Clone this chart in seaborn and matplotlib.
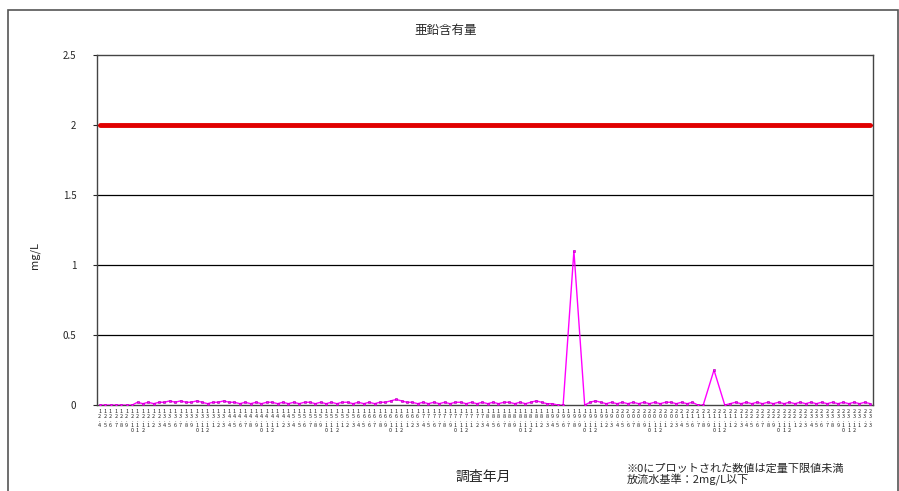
import numpy as np
import pandas as pd

import seaborn as sns
import matplotlib.pyplot as plt

import warnings
warnings.filterwarnings('ignore')

# survey months (Heisei year, month) -- one sample per month
years = [12, 13, 14, 15, 16, 17, 18, 19, 20, 21, 22, 23]
months = [4, 5, 6, 7, 8, 9, 10, 11, 12, 1, 2, 3]

zinc = [
    0, 0, 0, 0, 0, 0, 0, 0.02, 0.01, 0.02, 0.01, 0.02,
    0.02, 0.03, 0.02, 0.03, 0.02, 0.02, 0.03, 0.02, 0.01, 0.02, 0.02, 0.03,
    0.02, 0.02, 0.01, 0.02, 0.01, 0.02, 0.01, 0.02, 0.02, 0.01, 0.02, 0.01,
    0.02, 0.01, 0.02, 0.02, 0.01, 0.02, 0.01, 0.02, 0.01, 0.02, 0.02, 0.01,
    0.02, 0.01, 0.02, 0.01, 0.02, 0.02, 0.03, 0.04, 0.03, 0.02, 0.02, 0.01,
    0.02, 0.01, 0.02, 0.01, 0.02, 0.01, 0.02, 0.02, 0.01, 0.02, 0.01, 0.02,
    0.01, 0.02, 0.01, 0.02, 0.02, 0.01, 0.02, 0.01, 0.02, 0.03, 0.02, 0.01,
    0.01, 0, 0, None, 1.1, None, 0, 0.02, 0.03, 0.02, 0.01, 0.02,
    0.01, 0.02, 0.01, 0.02, 0.01, 0.02, 0.01, 0.02, 0.01, 0.02, 0.02, 0.01,
    0.02, 0.01, 0.02, 0, 0, None, 0.25, None, 0, 0.01, 0.02, 0.01,
    0.02, 0.01, 0.02, 0.01, 0.02, 0.01, 0.02, 0.01, 0.02, 0.01, 0.02, 0.01,
    0.02, 0.01, 0.02, 0.01, 0.02, 0.01, 0.02, 0.01, 0.02, 0.01, 0.02, 0.01,
]
standard = 2  # discharge standard, mg/L

labels = []
for y in years:
    for m in months:
        labels.append("\n".join(f"{y}.{m}"))

df = pd.DataFrame({"idx": range(len(zinc)), "zinc": zinc, "std": standard})
df["zinc"] = pd.to_numeric(df["zinc"])

sns.set_style("white")
plt.rcParams['font.family'] = ['Noto Sans CJK JP', 'DejaVu Sans']

fig = plt.figure(figsize=(8.99, 4.91), dpi=100)
ax = fig.add_axes([0.108, 0.175, 0.863, 0.713])

for v in [0.5, 1, 1.5, 2]:
    ax.axhline(v, color='black', lw=0.9, zorder=1)

sns.lineplot(data=df, x="idx", y="std", color='#e00000', lw=3.5, ax=ax, zorder=3)
sns.lineplot(data=df.dropna(), x="idx", y="zinc", color='#ff00ff', lw=1, marker='s',
             markersize=2, markeredgewidth=0.4, markeredgecolor='#b000b0', ax=ax, zorder=4)

ax.set_xlim(-0.5, len(zinc) - 0.5)
ax.set_ylim(0, 2.5)
ax.set_yticks([0, 0.5, 1, 1.5, 2, 2.5])
ax.set_yticklabels(['0', '0.5', '1', '1.5', '2', '2.5'], fontsize=7)
ax.set_xticks(range(len(zinc)))
ax.set_xticklabels(labels, fontsize=4, linespacing=0.9, va='top', color='#222222')
ax.tick_params(axis='x', length=2, pad=1, color='#555555')
ax.tick_params(axis='y', length=3, pad=12, left=True)
for s in ax.spines.values():
    s.set_color('#444444')
    s.set_linewidth(1)

ax.set_xlabel("")
ax.set_ylabel("")
fig.text(0.496, 0.938, "亜鉛含有量", ha='center', va='center', fontsize=9)
fig.text(0.039, 0.48, "mg/L", ha='center', va='center', rotation=90, fontsize=8)
fig.text(0.537, 0.028, "調査年月", ha='center', va='center', fontsize=10)
fig.text(0.697, 0.033, "※0にプロットされた数値は定量下限値未満\n放流水基準：2mg/L以下",
         ha='left', va='center', fontsize=8, linespacing=1.0)

fig.patches.append(plt.Rectangle((0.009, -0.01), 0.99, 0.99, transform=fig.transFigure,
                                 fill=False, edgecolor='#555555', lw=1.2))

plt.savefig("out.png", dpi=100)
